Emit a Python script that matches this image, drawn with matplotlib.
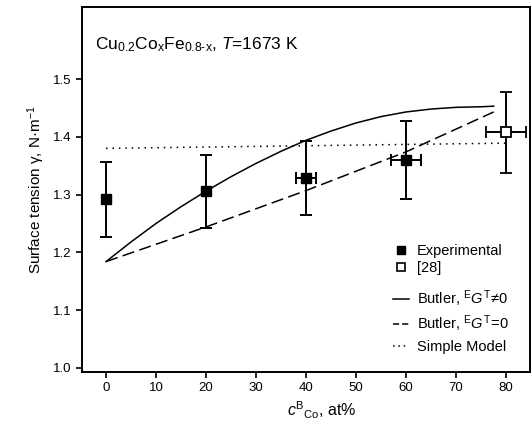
import numpy as np
import matplotlib
matplotlib.use("Agg")
from matplotlib import pyplot as plt
from matplotlib.lines import Line2D

plt.rcParams['font.family'] = ['Liberation Sans', 'DejaVu Sans']
plt.rcParams['mathtext.fontset'] = 'custom'
plt.rcParams['mathtext.rm'] = 'Liberation Sans'
plt.rcParams['mathtext.it'] = 'Liberation Sans:italic'

# experimental points
exp_x = [0, 20, 40, 60]
exp_y = [1.292, 1.306, 1.329, 1.360]
exp_yerr = [0.065, 0.063, 0.064, 0.068]
exp_xerr = [0, 0, 2, 3]

# literature point [28]
lit_x = [80]
lit_y = [1.408]
lit_yerr = [0.070]
lit_xerr = [4]

# Butler model, EG != 0
butler_x = [0, 5, 10, 15, 20, 25, 30, 35, 40, 45, 50, 55, 60, 65, 70, 75, 77.5]
butler_y = [1.184, 1.218, 1.250, 1.279, 1.306, 1.331, 1.354, 1.375, 1.394,
            1.410, 1.424, 1.435, 1.443, 1.448, 1.451, 1.452, 1.453]

# Butler model, EG = 0
ideal_x = [0, 20, 40, 60, 77.5]
ideal_y = [1.184, 1.244, 1.307, 1.374, 1.443]

# simple model
simple_x = [0, 80]
simple_y = [1.380, 1.389]

fig = plt.figure(figsize=(5.31, 4.34), dpi=100)
ax = fig.add_axes([0.1535, 0.143, 0.845, 0.84])

ax.plot(butler_x, butler_y, color='black', lw=1.1, ls='-')
ax.plot(ideal_x, ideal_y, color='black', lw=1.1, ls=(0, (8, 3.5)))
ax.plot(simple_x, simple_y, color='black', lw=1.1, ls=(0, (1, 3.2)))

ax.errorbar(exp_x, exp_y, yerr=exp_yerr, xerr=exp_xerr, fmt='s', color='black',
            ms=7, capsize=4.5, elinewidth=1.4, capthick=1.4)
ax.errorbar(lit_x, lit_y, yerr=lit_yerr, xerr=lit_xerr, fmt='s', color='black',
            mfc='white', mec='black', mew=1.3, ms=7, capsize=4.5, elinewidth=1.4,
            capthick=1.4)

ax.set_xlim(-4.9, 84.8)
ax.set_ylim(0.993, 1.624)
ax.set_xticks(np.arange(0, 81, 10))
ax.set_yticks([1.0, 1.1, 1.2, 1.3, 1.4, 1.5])
ax.set_yticklabels(['1.0', '1.1', '1.2', '1.3', '1.4', '1.5'])
ax.tick_params(direction='out', length=4, width=1.2, labelsize=9.5)
for s in ax.spines.values():
    s.set_linewidth(1.4)

ax.set_xlabel(r'$c^{\rm B}{}_{\rm Co}$, at%', fontsize=11.5)
ax.xaxis.label.set_x(0.536)
ax.set_ylabel('Surface tension γ, N·m$^{-1}$', fontsize=11)

ax.text(0.03, 0.897, r'Cu$_{0.2}$Co$_{\rm x}$Fe$_{0.8\text{-}\rm x}$, $T$=1673 K',
        transform=ax.transAxes, fontsize=12.5, va='center')

# legend: markers
mk = [Line2D([], [], ls='none', marker='s', color='black', ms=6),
      Line2D([], [], ls='none', marker='s', mfc='white', mec='black', mew=1.2, ms=6)]
leg1 = ax.legend(mk, ['Experimental', '[28]'], loc='center left',
                 bbox_to_anchor=(0.695, 0.308), frameon=False, fontsize=10.5,
                 handlelength=1.1, handletextpad=0.5, labelspacing=0.2,
                 borderaxespad=0, borderpad=0)
ax.add_artist(leg1)

# legend: model lines
ln = [Line2D([], [], color='black', lw=1.1, ls='-'),
      Line2D([], [], color='black', lw=1.1, ls=(0, (4, 2))),
      Line2D([], [], color='black', lw=1.1, ls=(0, (1, 2.5)))]
ax.legend(ln, [r'Butler, $^{\rm E}G^{\rm T}\!\neq\!0$', r'Butler, $^{\rm E}G^{\rm T}\!=\!0$',
               'Simple Model'], loc='center left', bbox_to_anchor=(0.695, 0.140),
          frameon=False, fontsize=10.5, handlelength=1.1, handletextpad=0.5,
          labelspacing=0.36, borderaxespad=0, borderpad=0)

fig.savefig('out.png', dpi=100)
